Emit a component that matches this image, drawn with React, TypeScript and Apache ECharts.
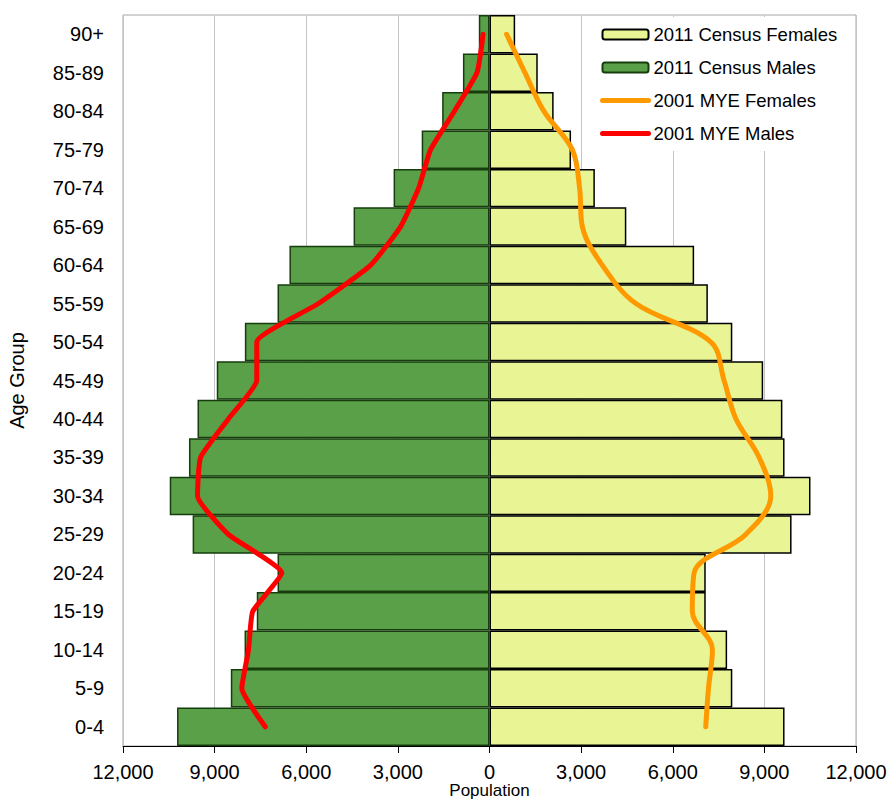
import React, { useEffect, useRef } from "react";
import * as echarts from "echarts";

const ageGroups = [
  "0-4", "5-9", "10-14", "15-19", "20-24", "25-29", "30-34", "35-39", "40-44",
  "45-49", "50-54", "55-59", "60-64", "65-69", "70-74", "75-79", "80-84", "85-89", "90+",
];

// 2011 Census (bars)
const census2011Males = [
  10230, 8470, 8020, 7620, 6940, 9720, 10470, 9840, 9560,
  8930, 8010, 6940, 6550, 4450, 3140, 2220, 1550, 870, 350,
];
const census2011Females = [
  9660, 7950, 7780, 7080, 7080, 9890, 10510, 9660, 9590,
  8960, 7950, 7150, 6700, 4480, 3450, 2670, 2100, 1580, 840,
];

// 2001 MYE (lines)
const mye2001Males = [
  7340, 8110, 7890, 7750, 6800, 8550, 9560, 9460, 8550,
  7620, 7620, 5600, 3890, 2910, 2320, 1930, 1150, 410, 210,
];
const mye2001Females = [
  7080, 7170, 7300, 6640, 6700, 8390, 9210, 8830, 8070,
  7680, 7250, 4790, 3690, 3040, 2950, 2710, 1780, 1160, 560,
];

const xTicks = { min: -12000, max: 12000, interval: 3000 };

const FONT = "'Liberation Sans', Arial, sans-serif";

export default function App() {
  const ref = useRef<HTMLDivElement>(null);

  useEffect(() => {
    document.body.style.margin = "0";
    if (!ref.current) return;
    const chart = echarts.init(ref.current, undefined, { renderer: "svg" });
    const fmt = (v: number) => Math.abs(v).toLocaleString("en-US");
    chart.setOption({
      animation: false,
      backgroundColor: "#ffffff",
      textStyle: { fontFamily: FONT, color: "#000" },
      grid: {
        left: 123,
        right: 35,
        top: 15,
        bottom: 56,
        show: true,
        borderColor: "#a6a6a6",
        borderWidth: 1,
        backgroundColor: "#ffffff",
        containLabel: false,
        outerBoundsMode: "none",
      },
      legend: {
        orient: "vertical",
        left: 592,
        top: 17,
        padding: [8, 12, 8, 8],
        backgroundColor: "#ffffff",
        itemWidth: 46,
        itemHeight: 10,
        itemGap: 14,
        textStyle: { fontFamily: FONT, fontSize: 18.5, color: "#000" },
        data: [
          { name: "2011 Census Females" },
          { name: "2011 Census Males" },
          {
            name: "2001 MYE Females",
            itemStyle: { opacity: 0 },
            lineStyle: { width: 5, color: "#ff9900" },
          },
          {
            name: "2001 MYE Males",
            itemStyle: { opacity: 0 },
            lineStyle: { width: 5, color: "#ff0000" },
          },
        ],
      },
      xAxis: {
        type: "value",
        min: xTicks.min,
        max: xTicks.max,
        interval: xTicks.interval,
        name: "Population",
        nameLocation: "middle",
        nameGap: 36,
        nameMoveOverlap: false,
        nameTextStyle: { fontFamily: FONT, fontSize: 17, lineHeight: 17, color: "#000" },
        axisLine: { show: true, lineStyle: { color: "#000", width: 1 } },
        axisTick: { show: true, length: 7, lineStyle: { color: "#000" } },
        axisLabel: {
          formatter: fmt,
          fontFamily: FONT,
          fontSize: 20,
          color: "#000",
          margin: 16,
        },
        splitLine: { show: true, lineStyle: { color: "#c4c4c4", width: 1 } },
      },
      yAxis: {
        type: "category",
        data: ageGroups,
        name: "Age Group",
        nameLocation: "middle",
        nameGap: 96,
        nameRotate: 90,
        nameTextStyle: { fontFamily: FONT, fontSize: 20, color: "#000" },
        axisLine: { show: false, onZero: false },
        axisTick: { show: false },
        axisLabel: { fontFamily: FONT, fontSize: 20, color: "#000", margin: 19 },
        splitLine: { show: false },
      },
      series: [
        {
          name: "2011 Census Females",
          type: "bar",
          data: census2011Females,
          barGap: "-100%",
          barCategoryGap: 0,
          itemStyle: { color: "#e9f494", borderColor: "#000000", borderWidth: 1.5 },
          z: 2,
        },
        {
          name: "2011 Census Males",
          type: "bar",
          data: census2011Males.map((v) => -v),
          barGap: "-100%",
          barCategoryGap: 0,
          itemStyle: { color: "#5aa048", borderColor: "#163d0c", borderWidth: 1.5 },
          z: 2,
        },
        {
          name: "2001 MYE Females",
          type: "line",
          data: mye2001Females,
          smooth: 0.35,
          symbol: "none",
          lineStyle: { color: "#ff9900", width: 5, cap: "round" },
          itemStyle: { color: "#ff9900" },
          z: 5,
        },
        {
          name: "2001 MYE Males",
          type: "line",
          data: mye2001Males.map((v) => -v),
          smooth: 0.15,
          symbol: "none",
          lineStyle: { color: "#ff0000", width: 5, cap: "round" },
          itemStyle: { color: "#ff0000" },
          z: 5,
        },
      ],
    });
    return () => chart.dispose();
  }, []);

  return (
    <div
      ref={ref}
      style={{ position: "absolute", left: 0, top: 0, width: 891, height: 802 }}
    />
  );
}
